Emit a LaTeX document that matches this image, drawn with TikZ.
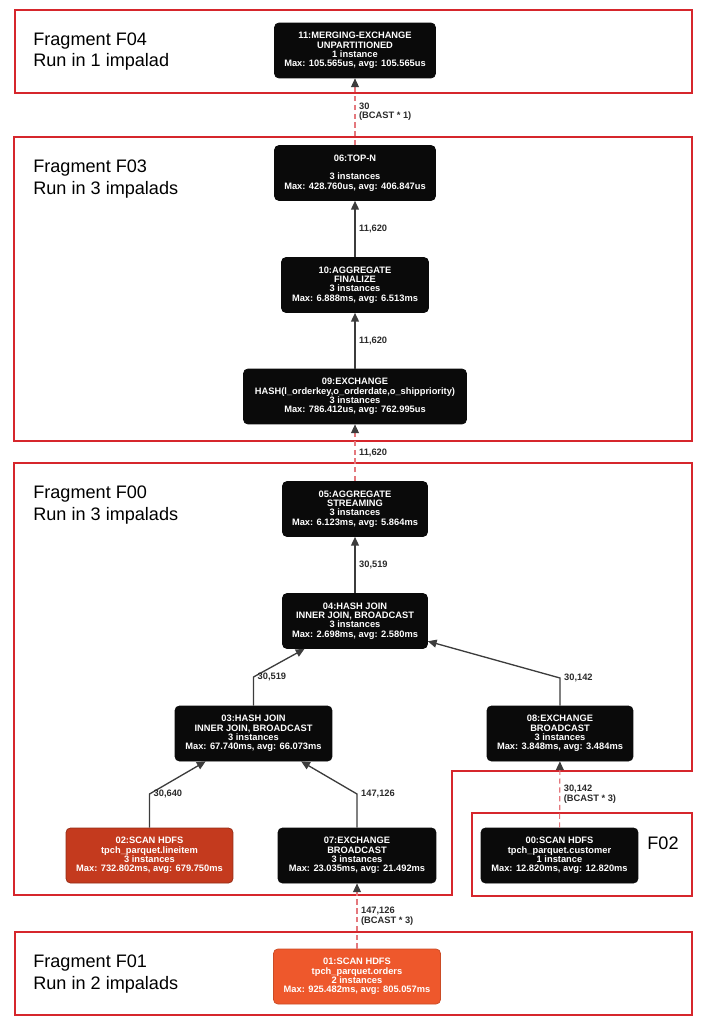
\documentclass[tikz,border=0pt]{standalone}
\usepackage{fontspec}
\setmainfont{Liberation Sans}
\usetikzlibrary{arrows.meta}
\definecolor{fragred}{RGB}{214,38,44}
\definecolor{opblack}{RGB}{10,10,10}
\definecolor{scandark}{RGB}{196,58,30}
\definecolor{scanlight}{RGB}{238,88,44}
\definecolor{xferpink}{RGB}{228,120,125}
\definecolor{edgegray}{RGB}{60,60,60}
\tikzset{
  op/.style={draw=opblack, fill=opblack, text=white, rounded corners=2.5pt,
    align=center, inner sep=1pt, minimum height=1.1cm,
    font=\fontsize{5.3}{5.3}\selectfont\bfseries},
  scan/.style={op, draw=scandark!75!black, fill=scandark},
  scanhot/.style={op, draw=scanlight!85!black, fill=scanlight},
  fragbox/.style={draw=fragred, line width=1.1pt},
  fragtext/.style={anchor=base west, align=left, inner sep=0,
    font=\fontsize{10.3}{12.2}\selectfont},
  edgelbl/.style={anchor=west, align=left, inner sep=2pt, text=edgegray!70!black,
    font=\fontsize{5.3}{5.6}\selectfont\bfseries},
  flow/.style={draw=edgegray, line width=0.75pt, ->},
  xfer/.style={draw=xferpink, line width=0.65pt, dash pattern=on 3pt off 2pt,
    -{Triangle[width=4.5pt,length=5pt,color=edgegray]}}
}

\begin{document}
\begin{tikzpicture}[x=0.02cm, y=-0.02cm, >={Triangle[width=4.5pt,length=5pt]}]
\useasboundingbox (0,0) rectangle (705,1024);

% fragments
\draw[fragbox] (15,10) rectangle (692,93);
\draw[fragbox] (14,137) rectangle (692,441);
\draw[fragbox] (14,463) -- (692,463) -- (692,771) -- (452,771) -- (452,895) -- (14,895) -- cycle;
\draw[fragbox] (472,813) rectangle (692,896);
\draw[fragbox] (15,932) rectangle (692,1015);

% base of a two-line label = second line
\node[fragtext] (f04) at (33,67) {Fragment F04\\Run in 1 impalad};
\node[fragtext] (f03) at (33,194) {Fragment F03\\Run in 3 impalads};
\node[fragtext] (f00) at (33,520) {Fragment F00\\Run in 3 impalads};
\node[fragtext, anchor=center] (f02) at (663,843) {F02};
\node[fragtext] (f01) at (33,989) {Fragment F01\\Run in 2 impalads};

% plan nodes
\node[op, minimum width=3.22cm] (n11) at (355,50.5) {11:MERGING-EXCHANGE\\UNPARTITIONED\\1 instance\\Max: 105.565us, avg: 105.565us};
\node[op, minimum width=3.22cm] (n06) at (355,173) {06:TOP-N\\[5.3pt]3 instances\\Max: 428.760us, avg: 406.847us};
\node[op, minimum width=2.94cm] (n10) at (355,285) {10:AGGREGATE\\FINALIZE\\3 instances\\Max: 6.888ms, avg: 6.513ms};
\node[op, minimum width=4.46cm] (n09) at (355,396.5) {09:EXCHANGE\\HASH(l\_orderkey,o\_orderdate,o\_shippriority)\\3 instances\\Max: 786.412us, avg: 762.995us};
\node[op, minimum width=2.9cm] (n05) at (355,509) {05:AGGREGATE\\STREAMING\\3 instances\\Max: 6.123ms, avg: 5.864ms};
\node[op, minimum width=2.9cm] (n04) at (355,621) {04:HASH JOIN\\INNER JOIN, BROADCAST\\3 instances\\Max: 2.698ms, avg: 2.580ms};
\node[op, minimum width=3.14cm] (n03) at (253.5,733.5) {03:HASH JOIN\\INNER JOIN, BROADCAST\\3 instances\\Max: 67.740ms, avg: 66.073ms};
\node[op, minimum width=2.92cm] (n08) at (560,733.5) {08:EXCHANGE\\BROADCAST\\3 instances\\Max: 3.848ms, avg: 3.484ms};
\node[scan, minimum width=3.34cm] (n02) at (149.5,855.5) {02:SCAN HDFS\\tpch\_parquet.lineitem\\3 instances\\Max: 732.802ms, avg: 679.750ms};
\node[op, minimum width=3.16cm] (n07) at (357,855.5) {07:EXCHANGE\\BROADCAST\\3 instances\\Max: 23.035ms, avg: 21.492ms};
\node[op, minimum width=3.14cm] (n00) at (559.5,855.5) {00:SCAN HDFS\\tpch\_parquet.customer\\1 instance\\Max: 12.820ms, avg: 12.820ms};
\node[scanhot, minimum width=3.34cm] (n01) at (357,976.5) {01:SCAN HDFS\\tpch\_parquet.orders\\2 instances\\Max: 925.482ms, avg: 805.057ms};

% bends
\coordinate (b03) at (253.5,677);
\coordinate (b02) at (149.5,794);
\coordinate (b07) at (357,794);
\coordinate (b08) at (560,678);

% data flow
\draw[xfer] (n06) -- (n11) node[midway, edgelbl] {30\\(BCAST * 1)};
\draw[flow] (n10) -- (n06) node[midway, edgelbl] {11,620};
\draw[flow] (n09) -- (n10) node[midway, edgelbl] {11,620};
\draw[xfer] (n05) -- (n09) node[midway, edgelbl] {11,620};
\draw[flow] (n04) -- (n05) node[midway, edgelbl] {30,519};
\draw[flow] (n03) -- (b03) node[edgelbl] {30,519} -- (n04);
\draw[flow] (n08) -- (b08) node[edgelbl] {30,142} -- (n04);
\draw[flow] (n02) -- (b02) node[edgelbl] {30,640} -- (n03);
\draw[flow] (n07) -- (b07) node[edgelbl] {147,126} -- (n03);
\draw[xfer] (n00) -- (n08) node[midway, edgelbl] {30,142\\(BCAST * 3)};
\draw[xfer] (n01) -- (n07) node[midway, edgelbl] {147,126\\(BCAST * 3)};

\end{tikzpicture}
\end{document}
